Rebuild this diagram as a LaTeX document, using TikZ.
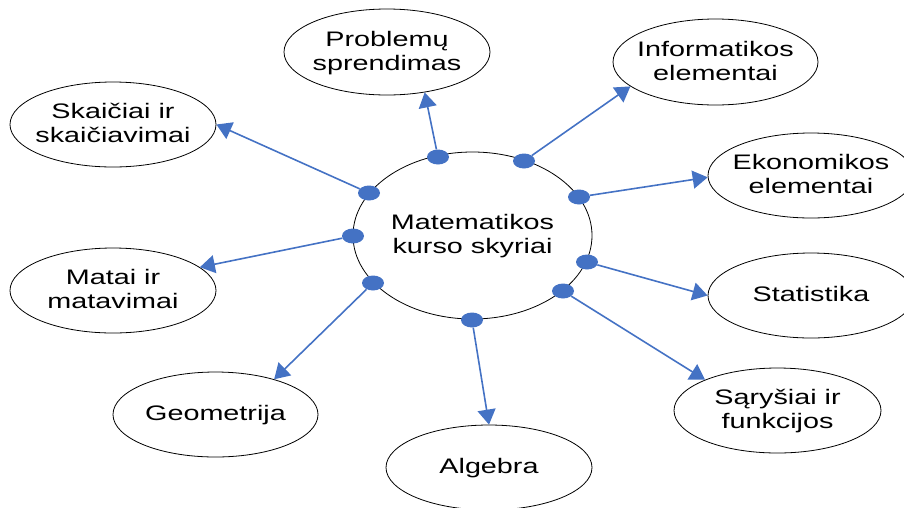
\documentclass[tikz,border=0pt]{standalone}
\usepackage{fontspec}
\setmainfont{Liberation Sans}
\usetikzlibrary{shapes.geometric,arrows.meta}
\definecolor{dotblue}{HTML}{4472C4}
\newcommand{\lbl}[1]{\scalebox{1.37}[1]{\begin{tabular}{@{}c@{}}#1\end{tabular}}}
\begin{document}
\begin{tikzpicture}[x=1pt,y=-1pt,
  oval/.style={ellipse, draw=black, line width=0.8pt, inner sep=0pt,
    minimum width=206pt, minimum height=85pt},
  txt/.style={inner sep=0pt, yshift=-1.5pt, font=\fontsize{21}{24}\selectfont},
  dotnode/.style={ellipse, fill=dotblue, draw=none, inner sep=0pt,
    minimum width=22pt, minimum height=15pt},
  conn/.style={draw=dotblue, line width=1.6pt,
    -{Triangle[length=15pt,width=18pt]}}]
\useasboundingbox (0,0) rectangle (904,507);
\clip (0,0) rectangle (904,507);
% central ellipse
\node[ellipse, draw=black, line width=0.8pt, inner sep=0pt,
  minimum width=239pt, minimum height=167pt] (main) at (472.5,235.5) {};
\node[txt] (maint) at (main.center) {\lbl{Matematikos\\kurso skyriai}};
% outer ellipses
\node[oval, minimum height=86pt] (prob) at (387,52) {};
\node[txt] (probt) at (prob.center) {\lbl{Problemų\\sprendimas}};
\node[oval, minimum width=205pt, minimum height=86pt] (info) at (715.5,62) {};
\node[txt] (infot) at (info.center) {\lbl{Informatikos\\elementai}};
\node[oval] (skai) at (113,124.5) {};
\node[txt] (skait) at (skai.center) {\lbl{Skaičiai ir\\skaičiavimai}};
\node[oval] (ekon) at (811,175.5) {};
\node[txt] (ekont) at (ekon.center) {\lbl{Ekonomikos\\elementai}};
\node[oval] (matai) at (113,290.5) {};
\node[txt] (matait) at (matai.center) {\lbl{Matai ir\\matavimai}};
\node[oval] (stat) at (811,295.5) {};
\node[txt] (statt) at (stat.center) {\lbl{Statistika}};
\node[oval, minimum width=205pt] (geom) at (215.5,414.5) {};
\node[txt] (geomt) at (geom.center) {\lbl{Geometrija}};
\node[oval] (alg) at (489,467.5) {};
\node[txt] (algt) at (alg.center) {\lbl{Algebra}};
\node[oval, minimum width=207pt] (sar) at (777.5,410.5) {};
\node[txt] (sart) at (sar.center) {\lbl{Sąryšiai ir\\funkcijos}};
% dots
\node[dotnode] (d1) at (438,157) {};
\node[dotnode] (d2) at (524,161) {};
\node[dotnode] (d3) at (369,193) {};
\node[dotnode] (d4) at (353,236) {};
\node[dotnode] (d5) at (579,197) {};
\node[dotnode] (d6) at (587,262) {};
\node[dotnode] (d7) at (563,291) {};
\node[dotnode] (d8) at (472,320) {};
\node[dotnode] (d9) at (373,283) {};
% connectors
\draw[conn] (d1) -- (prob.-47);
\draw[conn] (d2) -- (info.-164);
\draw[conn] (d3) -- (skai.0);
\draw[conn] (d4) -- (matai.15);
\draw[conn] (d5) -- (ekon.181);
\draw[conn] (d6) -- (stat.180);
\draw[conn] (d7) -- (sar.157);
\draw[conn] (d8) -- (alg.90);
\draw[conn] (d9) -- (geom.31);
\end{tikzpicture}
\end{document}
